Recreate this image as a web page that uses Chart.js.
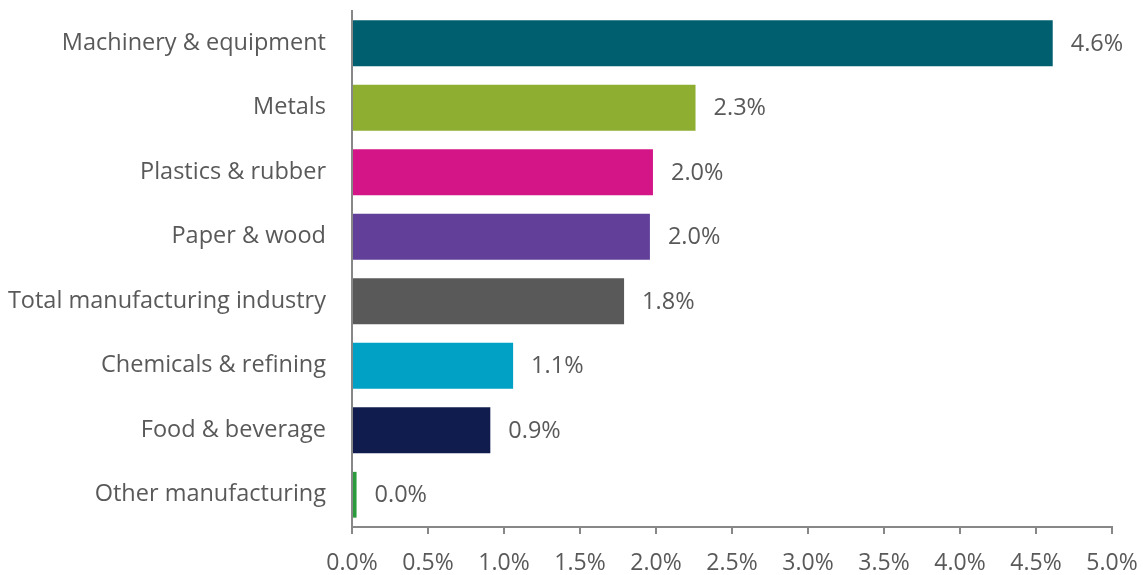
<!DOCTYPE html>
<html>
<head>
<meta charset="utf-8">
<script src="https://cdn.jsdelivr.net/npm/chart.js@4.4.0/dist/chart.umd.min.js"></script>
<style>
  html, body { margin: 0; padding: 0; background: #fff; }
  #wrap { width: 1143px; height: 575px; }
</style>
</head>
<body>
<div id="wrap"><canvas id="grafico"></canvas></div>
<script>
const categorias = ['Machinery & equipment', 'Metals', 'Plastics & rubber', 'Paper & wood',
    'Total manufacturing industry', 'Chemicals & refining', 'Food & beverage', 'Other manufacturing'];
const valores = [4.61, 2.26, 1.98, 1.96, 1.79, 1.06, 0.91, 0.03];
const rotulos = ['4.6%', '2.3%', '2.0%', '2.0%', '1.8%', '1.1%', '0.9%', '0.0%'];
const cores = ['#005F6E', '#8DAE31', '#D31587', '#62409A', '#595959', '#00A1C5', '#111C4E', '#2A9B3A'];

const fonte = '"Open Sans", Lato, sans-serif';
const corTexto = '#595959';

// rotulos no fim de cada barra
const rotulosPlugin = {
    id: 'rotulos',
    afterDatasetsDraw(chart) {
        const ctx = chart.ctx;
        const meta = chart.getDatasetMeta(0);
        ctx.save();
        ctx.font = '23.5px ' + fonte;
        ctx.fillStyle = corTexto;
        ctx.textBaseline = 'middle';
        ctx.textAlign = 'left';
        meta.data.forEach((bar, i) => {
            ctx.fillText(rotulos[i], bar.x + 18, bar.y + 1);
        });
        ctx.restore();
    }
};

new Chart(document.getElementById('grafico').getContext('2d'), {
    type: 'bar',
    data: {
        labels: categorias,
        datasets: [{
            data: valores,
            backgroundColor: cores,
            categoryPercentage: 1,
            barPercentage: 0.71
        }]
    },
    options: {
        indexAxis: 'y',
        responsive: true,
        maintainAspectRatio: false,
        animation: false,
        layout: { padding: { top: 11, right: 31, left: 0, bottom: 0 } },
        plugins: { legend: { display: false }, tooltip: { enabled: false } },
        scales: {
            x: {
                min: 0,
                max: 5,
                ticks: {
                    stepSize: 0.5,
                    color: corTexto,
                    font: { family: fonte, size: 23 },
                    padding: 16,
                    maxRotation: 0,
                    callback: v => v.toFixed(1) + '%'
                },
                grid: { drawOnChartArea: false, drawTicks: true, tickLength: 7, color: '#878787', lineWidth: 2 },
                border: { color: '#878787', width: 2 },
                afterFit: s => { s.height = 48; s.paddingLeft = 0; s.paddingRight = 0; }
            },
            y: {
                ticks: {
                    color: corTexto,
                    font: { family: fonte, size: 23.5 },
                    padding: 18
                },
                grid: { display: false },
                border: { color: '#878787', width: 2 },
                afterFit: s => { s.width = 352; s.paddingTop = 0; s.paddingBottom = 0; }
            }
        }
    },
    plugins: [rotulosPlugin]
});
</script>
</body>
</html>
